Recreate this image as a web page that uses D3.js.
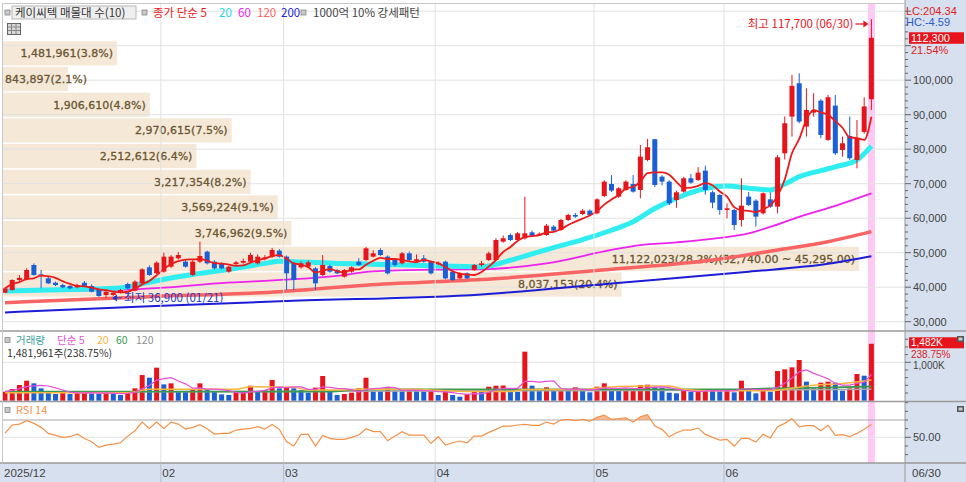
<!DOCTYPE html>
<html><head><meta charset="utf-8">
<script src="https://cdn.jsdelivr.net/npm/d3@7"></script>
<style>body{margin:0;background:#fff;}svg{display:block;}</style>
</head><body><svg id="c" width="966" height="482"></svg>
<script>
// ---------------- DATA ----------------
const opens=[38400,39180,42080,42280,46430,43700,42570,41300,40630,40340,
39950,41300,40340,39180,37730,37730,38400,40920,38990,41120,
45760,44020,44500,45950,48370,47400,43530,47400,50300,47400,
46920,44500,46700,47100,47400,46920,48100,48850,50590,48850,
46920,45760,45950,45470,43530,46140,44980,43050,44500,47400,
47880,48850,50780,48850,47880,46920,49820,47600,48370,47400,
46700,47400,44500,42570,44020,44980,46430,47880,47880,53200,
55130,53680,54170,55900,55200,55130,57550,56580,59480,60930,
61220,62190,61420,66440,69920,66250,68180,69920,68180,76880,
82880,72050,70600,65280,67700,71570,71080,73790,67510,66730,
62380,62380,59480,66250,65090,61420,65470,63350,78820,89450,
99120,86550,90610,94090,82680,92640,79780,83840,76880,85000,
94500];
const highs=[39900,42300,43500,45500,46900,45000,43000,41600,41000,40600,
41000,41800,40800,39400,39000,38700,39500,41300,42000,45500,
46300,47500,50000,49300,50200,47800,47800,53200,50600,47800,
47200,46200,47600,48300,50000,49500,49300,51400,51000,49200,
47300,47500,47700,45800,49300,46500,45300,45300,46000,48400,
51700,50700,51300,49200,48300,50200,50300,49500,49300,47700,
47500,47700,44800,44300,44300,46700,47600,50300,54200,55000,
55600,56000,66250,56400,55900,58300,58000,59800,61300,61500,
62600,62500,65800,71000,72500,69000,71000,72500,81230,83000,
83000,72500,71000,68000,72000,72800,74800,75200,68000,67000,
64300,62700,71570,67600,65500,67500,67500,78330,89500,101530,
102020,97670,96220,94500,95730,95730,83650,89450,88480,95000,
117700];
const lows=[38300,39000,41800,42000,43300,39700,40900,40300,39700,39400,
39700,40100,38500,37200,36900,37500,38200,39400,38800,40900,
43300,43800,44200,45600,48000,45700,43300,47000,46600,45200,
45200,44200,46400,46800,47100,46600,47800,48500,48600,39180,
39180,45400,45600,39180,43300,44200,43800,42800,44200,46200,
47600,48600,49000,43700,46000,46600,47600,47300,47100,43700,
46400,42300,41800,42300,42300,44700,46000,47600,47600,52900,
53400,53400,53800,54600,54800,54900,56000,56300,59200,60100,
60900,60600,61100,66100,67600,65900,67900,67400,65770,76500,
69000,69500,63800,63000,67400,70000,70800,66800,62900,61000,
59970,56580,57550,63500,57550,61100,63000,61420,77000,83650,
87520,83650,89450,83170,82400,78330,77850,76880,74470,84500,
91380];
const closes=[39670,42080,42700,44980,43530,43400,41120,40630,39950,39670,
40630,40340,38700,37440,38700,38410,39180,39670,41600,45180,
43530,47110,48850,48850,49330,45950,47400,49040,46920,45470,
45470,45950,47200,47600,49330,48850,48650,50780,48850,44020,
42080,46920,47200,41120,46430,44500,44020,44980,45760,46430,
51270,49820,49330,44020,46430,49820,47880,48100,47400,44020,
47100,42570,42080,44020,42570,46430,46920,49820,53680,54200,
53680,55620,55620,54940,55500,57840,56390,59480,60930,60450,
62190,60930,65470,70600,67990,68670,70600,67700,77850,80560,
69630,70600,64320,67510,71570,70310,73210,68180,64510,62380,
62870,58030,63640,63830,60450,67220,63350,77660,87520,98340,
88000,91380,91380,84130,95060,78820,81720,77370,83170,92400,
112300];
// volume in thousands of shares
const volumes=[234,304,408,521,452,322,209,174,234,174,
218,222,192,185,195,190,148,234,322,668,
599,860,425,452,234,225,295,452,304,234,
165,150,218,225,390,234,278,538,322,340,
322,278,209,340,643,260,150,175,209,322,
599,260,255,320,260,255,280,265,240,255,
148,253,148,105,174,235,230,365,391,395,
235,230,1277,391,278,348,278,296,278,348,
278,218,365,452,296,278,285,296,409,417,
348,330,209,192,278,235,261,278,261,244,
278,218,521,261,192,261,235,773,817,869,
1060,496,322,470,496,470,261,322,695,651,
1482];
const rsi=[54.5,64.2,65.3,69.2,66.1,61.5,54.5,52.2,49.9,50.7,
53.8,48.7,44.9,38.3,41.0,42.2,43.7,51.4,57.6,67.6,
60.3,67.6,60.3,67.6,65.3,59.5,61.5,64.5,59.9,53.8,
54.5,54.5,58.4,59.5,60.3,62.2,59.5,64.9,59.2,44.9,
39.9,53.4,53.4,39.9,52.2,48.7,47.6,47.6,49.9,52.6,
59.9,56.5,56.5,46.0,51.4,56.5,52.6,52.6,52.6,43.0,
50.7,41.0,43.7,45.7,43.7,51.4,51.4,55.7,59.2,63.0,
63.0,64.2,64.9,63.8,63.8,67.6,65.3,69.9,70.7,69.2,
70.7,68.8,73.0,75.7,70.7,71.5,72.6,67.6,73.8,76.1,
63.0,59.2,50.7,55.3,58.4,58.4,60.7,53.4,49.9,46.8,
47.6,39.9,48.7,48.7,44.5,53.4,49.1,62.2,66.1,71.5,
62.2,63.4,63.4,57.6,63.8,52.2,53.0,50.7,54.5,59.2,
64.9];
// moving averages: [trading-day index, value]
const ma20=[[0,38900],[6,39200],[11,39400],[15,39700],[17,40100],[19,41000],[22,42300],[27,44000],[32,45500],[36,46900],[38,47500],[40,47400],[46,46900],[52,46600],[58,46300],[66,45950],[70,47800],[75,50900],[80,53800],[84,56500],[87,59000],[90,62800],[93,65800],[97,68600],[100,69300],[103,68700],[106,68200],[108,69900],[110,72000],[113,73800],[115,74900],[118,76900],[120,80900]];
const ma60=[[0,38900],[17,39300],[22,39900],[30,41200],[39,42200],[46,43300],[51,44600],[60,45100],[66,45200],[75,46900],[84,50800],[88,52200],[93,53000],[99,54300],[103,55600],[106,57500],[110,60400],[115,63600],[120,67200]];
const ma120=[[0,35500],[20,37250],[38,38700],[50,40600],[66,42200],[84,45200],[98,47900],[107,50800],[114,53200],[120,56100]];
const ma200=[[0,32700],[20,34500],[39,36000],[66,37900],[84,41100],[103,44500],[114,46800],[120,49000]];
const vma20=[[0,208],[17,208],[20,295],[32,295],[34,365],[40,350],[42,278],[46,278],[49,295],[57,295],[60,270],[64,240],[70,240],[72,290],[80,290],[82,330],[88,380],[92,380],[94,300],[97,261],[106,261],[108,300],[112,400],[116,450],[120,540]];
const vma60=[[0,234],[45,240],[49,290],[60,295],[100,295],[106,320],[113,340],[120,370]];
const vma120=[[0,225],[60,255],[100,270],[120,300]];
// volume profile (매물대)
const profileEdges=[112300,104855,97410,89965,82520,75075,67630,60185,52740,45295,37850];
const profileVol=[1481961,843897,1906610,2970615,2512612,3217354,3569224,3746962,11122023,8037153];
const profilePct=[3.8,2.1,4.8,7.5,6.4,8.2,9.1,9.5,28.2,20.4];
// x-axis month labels
const monthLabels=["2025/12","02","03","04","05","06"];
const monthIdx=[0,22,39,60,82,100];
const priceTicks=[30000,40000,50000,60000,70000,80000,90000,100000];

// ---------------- CHART ----------------
const FK="'Noto Sans CJK KR','Noto Sans',sans-serif";
const FN="'Liberation Sans',Arial,sans-serif";
const UP="#e8141c", DN="#1a5fd6";
const svg=d3.select("#c");
const n=closes.length;
const x=d3.scaleLinear().domain([0,n-1]).range([5,871.4]);
const yP=d3.scaleLinear().domain([27594,122377]).range([330,3]);
const yV=d3.scaleLinear().domain([0,1763]).range([400.7,333]);
const yR=d3.scaleLinear().domain([20.3,90.8]).range([463,402]);

svg.append("rect").attr("width",966).attr("height",482).attr("fill","#fff");
const defs=svg.append("defs");
defs.append("clipPath").attr("id","cp").append("rect").attr("x",3).attr("y",3).attr("width",902).attr("height",327);
defs.append("clipPath").attr("id","cv").append("rect").attr("x",3).attr("y",333).attr("width",902).attr("height",68);
defs.append("clipPath").attr("id","cr").append("rect").attr("x",3).attr("y",402).attr("width",902).attr("height",61);
defs.append("clipPath").attr("id","cr70").append("rect").attr("x",3).attr("y",402).attr("width",902).attr("height",yR(70)-402);

// pink highlight of the last day
svg.append("rect").attr("x",x(n-1)-3.5).attr("y",4).attr("width",7).attr("height",459).attr("fill","#ffc8f5");

// volume profile bars
const gP=svg.append("g").attr("clip-path","url(#cp)");
const maxPV=d3.max(profileVol);
const pw=d3.scaleLinear().domain([0,maxPV]).range([0,856]);
profileVol.forEach((v,k)=>{
  const t=yP(profileEdges[k])+3.5, b=yP(profileEdges[k+1])+2;
  gP.append("rect").attr("x",3).attr("y",t).attr("width",pw(v)).attr("height",b-t).attr("fill","#f5e8d7");
});
// gridlines
const gridC="#e2e2e2";
d3.range(30000,120001,10000).forEach(p=>{
  gP.append("line").attr("x1",3).attr("x2",905).attr("y1",yP(p)).attr("y2",yP(p)).attr("stroke",gridC);
});
monthIdx.slice(1).forEach(i=>{
  svg.append("line").attr("x1",x(i)-3).attr("x2",x(i)-3).attr("y1",3).attr("y2",463).attr("stroke",gridC);
});
svg.append("line").attr("x1",3).attr("x2",905).attr("y1",yV(1000)).attr("y2",yV(1000)).attr("stroke",gridC);
svg.append("line").attr("x1",3).attr("x2",905).attr("y1",yR(50)).attr("y2",yR(50)).attr("stroke",gridC);
svg.append("line").attr("x1",3).attr("x2",905).attr("y1",yR(70)).attr("y2",yR(70)).attr("stroke","#a8a8a8");

// profile labels
const fmt=d3.format(",");
profileVol.forEach((v,k)=>{
  const cy=(yP(profileEdges[k])+3.5+yP(profileEdges[k+1])+2)/2;
  let s=fmt(v)+"("+profilePct[k].toFixed(1)+"%)";
  if(v===maxPV) s+="("+d3.format(",.2f")(profileEdges[k])+" ~ "+d3.format(",.2f")(profileEdges[k+1])+")";
  const t=gP.append("text").attr("x",5).attr("y",cy).attr("dy","0.36em")
    .attr("font-family","'DejaVu Sans',sans-serif").attr("font-size",11).attr("fill","#6b5631")
    .attr("stroke","#6b5631").attr("stroke-width",0.3).text(s);
  const L=t.node().getComputedTextLength();
  const xs=3+pw(v)-4-L;
  if(xs>5) t.attr("x",xs);
});

// moving average lines
const lineP=d3.line().x(d=>x(d[0])).y(d=>yP(d[1])).curve(d3.curveMonotoneX);
gP.append("path").attr("d",lineP(ma200)).attr("fill","none").attr("stroke","#1d1dd8").attr("stroke-width",2);
gP.append("path").attr("d",lineP(ma120)).attr("fill","none").attr("stroke","#f86464").attr("stroke-width",3.5);
gP.append("path").attr("d",lineP(ma60)).attr("fill","none").attr("stroke","#ee22ee").attr("stroke-width",1.8);
gP.append("path").attr("d",lineP(ma20)).attr("fill","none").attr("stroke","#30eef0").attr("stroke-width",5);

// candles
const cg=gP.append("g");
closes.forEach((c,i)=>{
  const o=opens[i], col=c>=o?UP:DN;
  cg.append("line").attr("x1",x(i)).attr("x2",x(i)).attr("y1",yP(highs[i])).attr("y2",yP(lows[i])).attr("stroke",col).attr("stroke-width",1);
  const t=yP(Math.max(o,c)), b=yP(Math.min(o,c));
  cg.append("rect").attr("x",x(i)-2.5).attr("y",t).attr("width",5).attr("height",Math.max(1,b-t)).attr("fill",col);
});
// 5-day MA from closes
const ma5=closes.map((c,i)=>[i,d3.mean(closes.slice(Math.max(0,i-4),i+1))]);
gP.append("path").attr("d",lineP(ma5)).attr("fill","none").attr("stroke","#ec1a1a").attr("stroke-width",1.8);

// high / low annotations
const hiI=d3.maxIndex(highs), loI=d3.minIndex(lows);
svg.append("text").attr("x",x(hiI)-18).attr("y",24).attr("dy","0.35em").attr("text-anchor","end")
  .attr("font-family",FK).attr("font-size",11.5).attr("fill","#e8141c").text("최고 "+fmt(highs[hiI])+" (06/30)");
svg.append("line").attr("x1",x(hiI)-16).attr("x2",x(hiI)-5).attr("y1",24).attr("y2",24).attr("stroke","#e8141c").attr("stroke-width",1.2);
svg.append("path").attr("d",`M${x(hiI)-3},24 l-5,-3.5 l0,7 z`).attr("fill","#e8141c");
const ly=yP(lows[loI]);
svg.append("path").attr("d",`M${x(loI)+6},${ly} l5,-3.5 l0,7 z`).attr("fill","#2038c8");
svg.append("line").attr("x1",x(loI)+10).attr("x2",x(loI)+16).attr("y1",ly).attr("y2",ly).attr("stroke","#2038c8");
svg.append("text").attr("x",x(loI)+18).attr("y",ly).attr("dy","0.35em")
  .attr("font-family",FK).attr("font-size",11.5).attr("fill","#2038c8").text("최저 "+fmt(lows[loI])+" (01/21)");

// ---------------- VOLUME ----------------
const gV=svg.append("g").attr("clip-path","url(#cv)");
volumes.forEach((v,i)=>{
  const col=(i===0||v>=volumes[i-1])?UP:DN;
  gV.append("rect").attr("x",x(i)-2.5).attr("y",yV(v)).attr("width",5).attr("height",yV(0)-yV(v)).attr("fill",col);
});
const lineV=d3.line().x(d=>x(d[0])).y(d=>yV(d[1])).curve(d3.curveMonotoneX);
const vma5=volumes.map((v,i)=>[i,d3.mean(volumes.slice(Math.max(0,i-4),i+1))]);
gV.append("path").attr("d",lineV(vma120)).attr("fill","none").attr("stroke","#a8a8a8").attr("stroke-width",1.5);
gV.append("path").attr("d",lineV(vma60)).attr("fill","none").attr("stroke","#3c9a50").attr("stroke-width",1.8);
gV.append("path").attr("d",lineV(vma20)).attr("fill","none").attr("stroke","#f5b540").attr("stroke-width",1.5);
gV.append("path").attr("d",d3.line().x(d=>x(d[0])).y(d=>yV(d[1]))(vma5)).attr("fill","none").attr("stroke","#e650d8").attr("stroke-width",1.2);

// ---------------- RSI ----------------
const gR=svg.append("g").attr("clip-path","url(#cr)");
gR.append("path").attr("clip-path","url(#cr70)")
  .attr("d",d3.area().x((d,i)=>x(i)).y0(yR(70)).y1(d=>yR(d))(rsi)).attr("fill","#f5a06a").attr("opacity",0.75);
gR.append("path").attr("d",d3.line().x((d,i)=>x(i)).y(d=>yR(d))(rsi)).attr("fill","none").attr("stroke","#f5924a").attr("stroke-width",1.2);

// ---------------- FRAME ----------------
svg.append("rect").attr("x",905).attr("y",0).attr("width",61).attr("height",482).attr("fill","#d6e0ee");
svg.append("rect").attr("x",0).attr("y",463).attr("width",966).attr("height",19).attr("fill","#d6e0ee");
[331,401.5,463].forEach(yy=>svg.append("line").attr("x1",0).attr("x2",966).attr("y1",yy).attr("y2",yy).attr("stroke","#9a9a9a").attr("stroke-width",1.3));
svg.append("line").attr("x1",905).attr("x2",905).attr("y1",0).attr("y2",482).attr("stroke","#9a9a9a");
svg.append("line").attr("x1",2.5).attr("x2",2.5).attr("y1",3).attr("y2",463).attr("stroke","#c8c8c8");
svg.append("line").attr("x1",2.5).attr("x2",905).attr("y1",3.5).attr("y2",3.5).attr("stroke","#c8c8c8");

// x axis
monthLabels.forEach((m,k)=>{
  const xx=k===0?4:x(monthIdx[k])-3;
  if(k>0) svg.append("line").attr("x1",xx).attr("x2",xx).attr("y1",463).attr("y2",482).attr("stroke","#b4bfd0");
  svg.append("text").attr("x",xx+(k===0?0:1.5)).attr("y",473).attr("dy","0.35em").attr("font-family",FN).attr("font-size",11.5).attr("fill","#444").text(m);
});
svg.append("text").attr("x",912).attr("y",473).attr("dy","0.35em").attr("font-family",FN).attr("font-size",11.5).attr("fill","#444").text("06/30");

// price axis
d3.range(30000,120001,2000).forEach(p=>{
  const major=p%10000===0;
  svg.append("line").attr("x1",905).attr("x2",major?911:908).attr("y1",yP(p)).attr("y2",yP(p)).attr("stroke","#666");
});
priceTicks.forEach(p=>{
  svg.append("text").attr("x",913).attr("y",yP(p)).attr("dy","0.36em").attr("font-family",FN).attr("font-size",11).attr("fill","#444").text(fmt(p));
});
svg.append("text").attr("x",906).attr("y",11).attr("dy","0.35em").attr("font-family",FN).attr("font-size",11).attr("fill","#e02020").text("LC:204.34");
svg.append("text").attr("x",906).attr("y",22.5).attr("dy","0.35em").attr("font-family",FN).attr("font-size",11).attr("fill","#2a5cc8").text("HC:-4.59");
const lastC=closes[n-1];
svg.append("rect").attr("x",909).attr("y",yP(lastC)-5.5).attr("width",55).attr("height",11.5).attr("fill","#e8141c");
svg.append("text").attr("x",911).attr("y",yP(lastC)).attr("dy","0.36em").attr("font-family",FN).attr("font-size",11).attr("fill","#fff").text(fmt(lastC));
svg.append("text").attr("x",911).attr("y",yP(lastC)+12).attr("dy","0.36em").attr("font-family",FN).attr("font-size",11).attr("fill","#e02020").text(((lastC/closes[n-2]-1)*100).toFixed(2)+"%");

// volume axis
d3.range(200,1763,200).forEach(v=>{
  svg.append("line").attr("x1",905).attr("x2",v===1000?911:908).attr("y1",yV(v)).attr("y2",yV(v)).attr("stroke","#666");
});
svg.append("text").attr("x",913).attr("y",yV(1000)+3.3).attr("dy","0.36em").attr("font-family",FN).attr("font-size",10).attr("fill","#444").text("1,000K");
const lastV=volumes[n-1];
svg.append("rect").attr("x",909).attr("y",yV(lastV)-6.5).attr("width",55).attr("height",11).attr("fill","#e8141c");
svg.append("text").attr("x",911).attr("y",yV(lastV)-1).attr("dy","0.36em").attr("font-family",FN).attr("font-size",10).attr("fill","#fff").text(fmt(lastV)+"K");
svg.append("text").attr("x",911).attr("y",yV(lastV)+10.5).attr("dy","0.36em").attr("font-family",FN).attr("font-size",10).attr("fill","#e02020").text("238.75%");
// rsi axis
d3.range(30,91,10).forEach(r=>{
  svg.append("line").attr("x1",905).attr("x2",r===50?911:908).attr("y1",yR(r)).attr("y2",yR(r)).attr("stroke","#666");
});
svg.append("text").attr("x",913).attr("y",yR(50)).attr("dy","0.36em").attr("font-family",FN).attr("font-size",11).attr("fill","#444").text("50.00");
[336,406].forEach(yy=>{
  svg.append("rect").attr("x",957).attr("y",yy).attr("width",7).attr("height",6).attr("fill","#555");
  svg.append("rect").attr("x",958.5).attr("y",yy+1.5).attr("width",4).attr("height",3).attr("fill","#ccc");
});

// ---------------- LEGENDS ----------------
function sq(xx,yy){svg.append("rect").attr("x",xx).attr("y",yy-2.5).attr("width",5).attr("height",5).attr("fill","#c8c8c8").attr("stroke","#888").attr("stroke-width",0.8);}
function tx(xx,yy,s,col,fs){return svg.append("text").attr("x",xx).attr("y",yy).attr("dy","0.36em").attr("font-family",FK).attr("font-size",fs||11.5).attr("fill",col).text(s);}
sq(5,12.5);
svg.append("rect").attr("x",12).attr("y",6).attr("width",124).attr("height",13).attr("fill","#efefef").attr("stroke","#b8b8b8");
tx(15,12.5,"케이씨텍 매물대 수(10)","#333");
sq(142,12.5);
tx(153,12.5,"종가 단순 5","#ec1a1a");
tx(219,12.5,"20","#22d6ea");
tx(238,12.5,"60","#ee22ee");
tx(257,12.5,"120","#f86464");
tx(281,12.5,"200","#1d1dd8");
sq(301,12.5);
tx(313,12.5,"1000억 10% 강세패턴","#444");
svg.append("rect").attr("x",7.5).attr("y",23.5).attr("width",13).attr("height",11).attr("fill","#d8d8d8").attr("stroke","#666");
[27,30.5].forEach(yy=>svg.append("line").attr("x1",8).attr("x2",20).attr("y1",yy).attr("y2",yy).attr("stroke","#888"));
[11.5,16].forEach(xx=>svg.append("line").attr("x1",xx).attr("x2",xx).attr("y1",24).attr("y2",34).attr("stroke","#888"));

sq(5,340);
tx(16,340,"거래량","#3a9fa0",10.5);
tx(57,340,"단순 5","#e650d8",10.5);
tx(97,340,"20","#f5b540",10.5);
tx(116,340,"60","#3c9a50",10.5);
tx(136,340,"120","#909090",10.5);
tx(7,353.5,"1,481,961주(238.75%)","#333",10.5);
sq(5,410);
tx(16,410,"RSI 14","#f5924a",11);
</script></body></html>
